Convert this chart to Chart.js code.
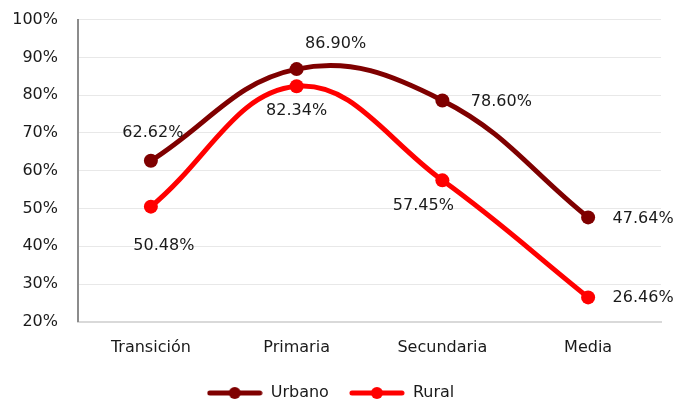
<!DOCTYPE html>
<html>
<head>
<meta charset="utf-8">
<script src="https://cdn.jsdelivr.net/npm/chart.js@4/dist/chart.umd.min.js"></script>
<style>
    html, body { margin: 0; padding: 0; background: #fff; overflow: hidden; }
    #wrap { width: 678px; height: 414px; margin-top: -10px; }
</style>
</head>
<body>
<div id="wrap"><canvas id="chart"></canvas></div>
<script>
const categories = ['Transición', 'Primaria', 'Secundaria', 'Media'];
const urbano = [62.62, 86.90, 78.60, 47.64];
const rural = [50.48, 82.34, 57.45, 26.46];
const yTicks = [20, 30, 40, 50, 60, 70, 80, 90, 100];

const FONT = 'DejaVu Sans';
const URBANO_COLOR = '#7f0000';
const RURAL_COLOR = '#ff0000';

// label offsets from each point, in px (dx, dy of text centre)
const labelOffsets = [
    [[2, -28], [39, -25], [59, 1], [55, 1]],
    [[13, 39], [0, 25], [-19, 26], [55, 0]]
];

// small line+dot picture for the legend
const legendMark = (color) => {
    const c = document.createElement('canvas');
    c.width = 56;
    c.height = 14;
    const g = c.getContext('2d');
    g.strokeStyle = color;
    g.lineWidth = 5;
    g.lineCap = 'round';
    g.beginPath();
    g.moveTo(3, 7);
    g.lineTo(53, 7);
    g.stroke();
    g.fillStyle = color;
    g.beginPath();
    g.arc(28, 7, 6, 0, Math.PI * 2);
    g.fill();
    return c;
};

const valueLabels = {
    id: 'valueLabels',
    afterDatasetsDraw(chart) {
        const ctx = chart.ctx;
        ctx.save();
        ctx.font = '16px "' + FONT + '"';
        ctx.fillStyle = '#1a1a1a';
        ctx.textAlign = 'center';
        ctx.textBaseline = 'middle';
        chart.data.datasets.forEach((ds, i) => {
            chart.getDatasetMeta(i).data.forEach((pt, j) => {
                const off = labelOffsets[i][j];
                ctx.fillText(ds.data[j].toFixed(2) + '%', pt.x + off[0], pt.y + off[1]);
            });
        });
        ctx.restore();
    }
};

const ctx = document.getElementById('chart').getContext('2d');
new Chart(ctx, {
    type: 'line',
    data: {
        labels: categories,
        datasets: [
            {
                label: 'Urbano',
                data: urbano,
                borderColor: URBANO_COLOR,
                backgroundColor: URBANO_COLOR,
                borderWidth: 5,
                pointRadius: 7,
                pointBorderWidth: 0,
                pointStyle: 'circle',
                tension: 0.4
            },
            {
                label: 'Rural',
                data: rural,
                borderColor: RURAL_COLOR,
                backgroundColor: RURAL_COLOR,
                borderWidth: 5,
                pointRadius: 7,
                pointBorderWidth: 0,
                pointStyle: 'circle',
                tension: 0.4
            }
        ]
    },
    options: {
        responsive: true,
        maintainAspectRatio: false,
        animation: false,
        layout: { padding: { top: 0, right: 17, bottom: -7, left: 0 } },
        plugins: {
            legend: {
                position: 'bottom',
                labels: {
                    usePointStyle: true,
                    pointStyleWidth: 56,
                    padding: 20,
                    color: '#1a1a1a',
                    font: { family: FONT, size: 16 },
                    generateLabels(chart) {
                        return chart.data.datasets.map((ds, i) => ({
                            text: ds.label,
                            pointStyle: legendMark(ds.borderColor),
                            fontColor: '#1a1a1a',
                            datasetIndex: i,
                            lineWidth: 0
                        }));
                    }
                }
            },
            tooltip: { enabled: false }
        },
        scales: {
            x: {
                offset: true,
                grid: { display: false },
                border: { color: '#d9d9d9', width: 2 },
                ticks: {
                    color: '#1a1a1a',
                    padding: 8,
                    font: { family: FONT, size: 16 }
                }
            },
            y: {
                min: 20,
                max: 100,
                afterBuildTicks: (scale) => {
                    scale.ticks = yTicks.map(v => ({ value: v }));
                },
                afterFit: (scale) => { scale.width = 78; },
                grid: { color: '#e8e8e8', lineWidth: 1, drawTicks: false },
                border: { color: '#8c8c8c', width: 2 },
                ticks: {
                    color: '#1a1a1a',
                    padding: 20,
                    font: { family: FONT, size: 16 },
                    callback: (v) => v + '%'
                }
            }
        }
    },
    plugins: [valueLabels]
});
</script>
</body>
</html>
